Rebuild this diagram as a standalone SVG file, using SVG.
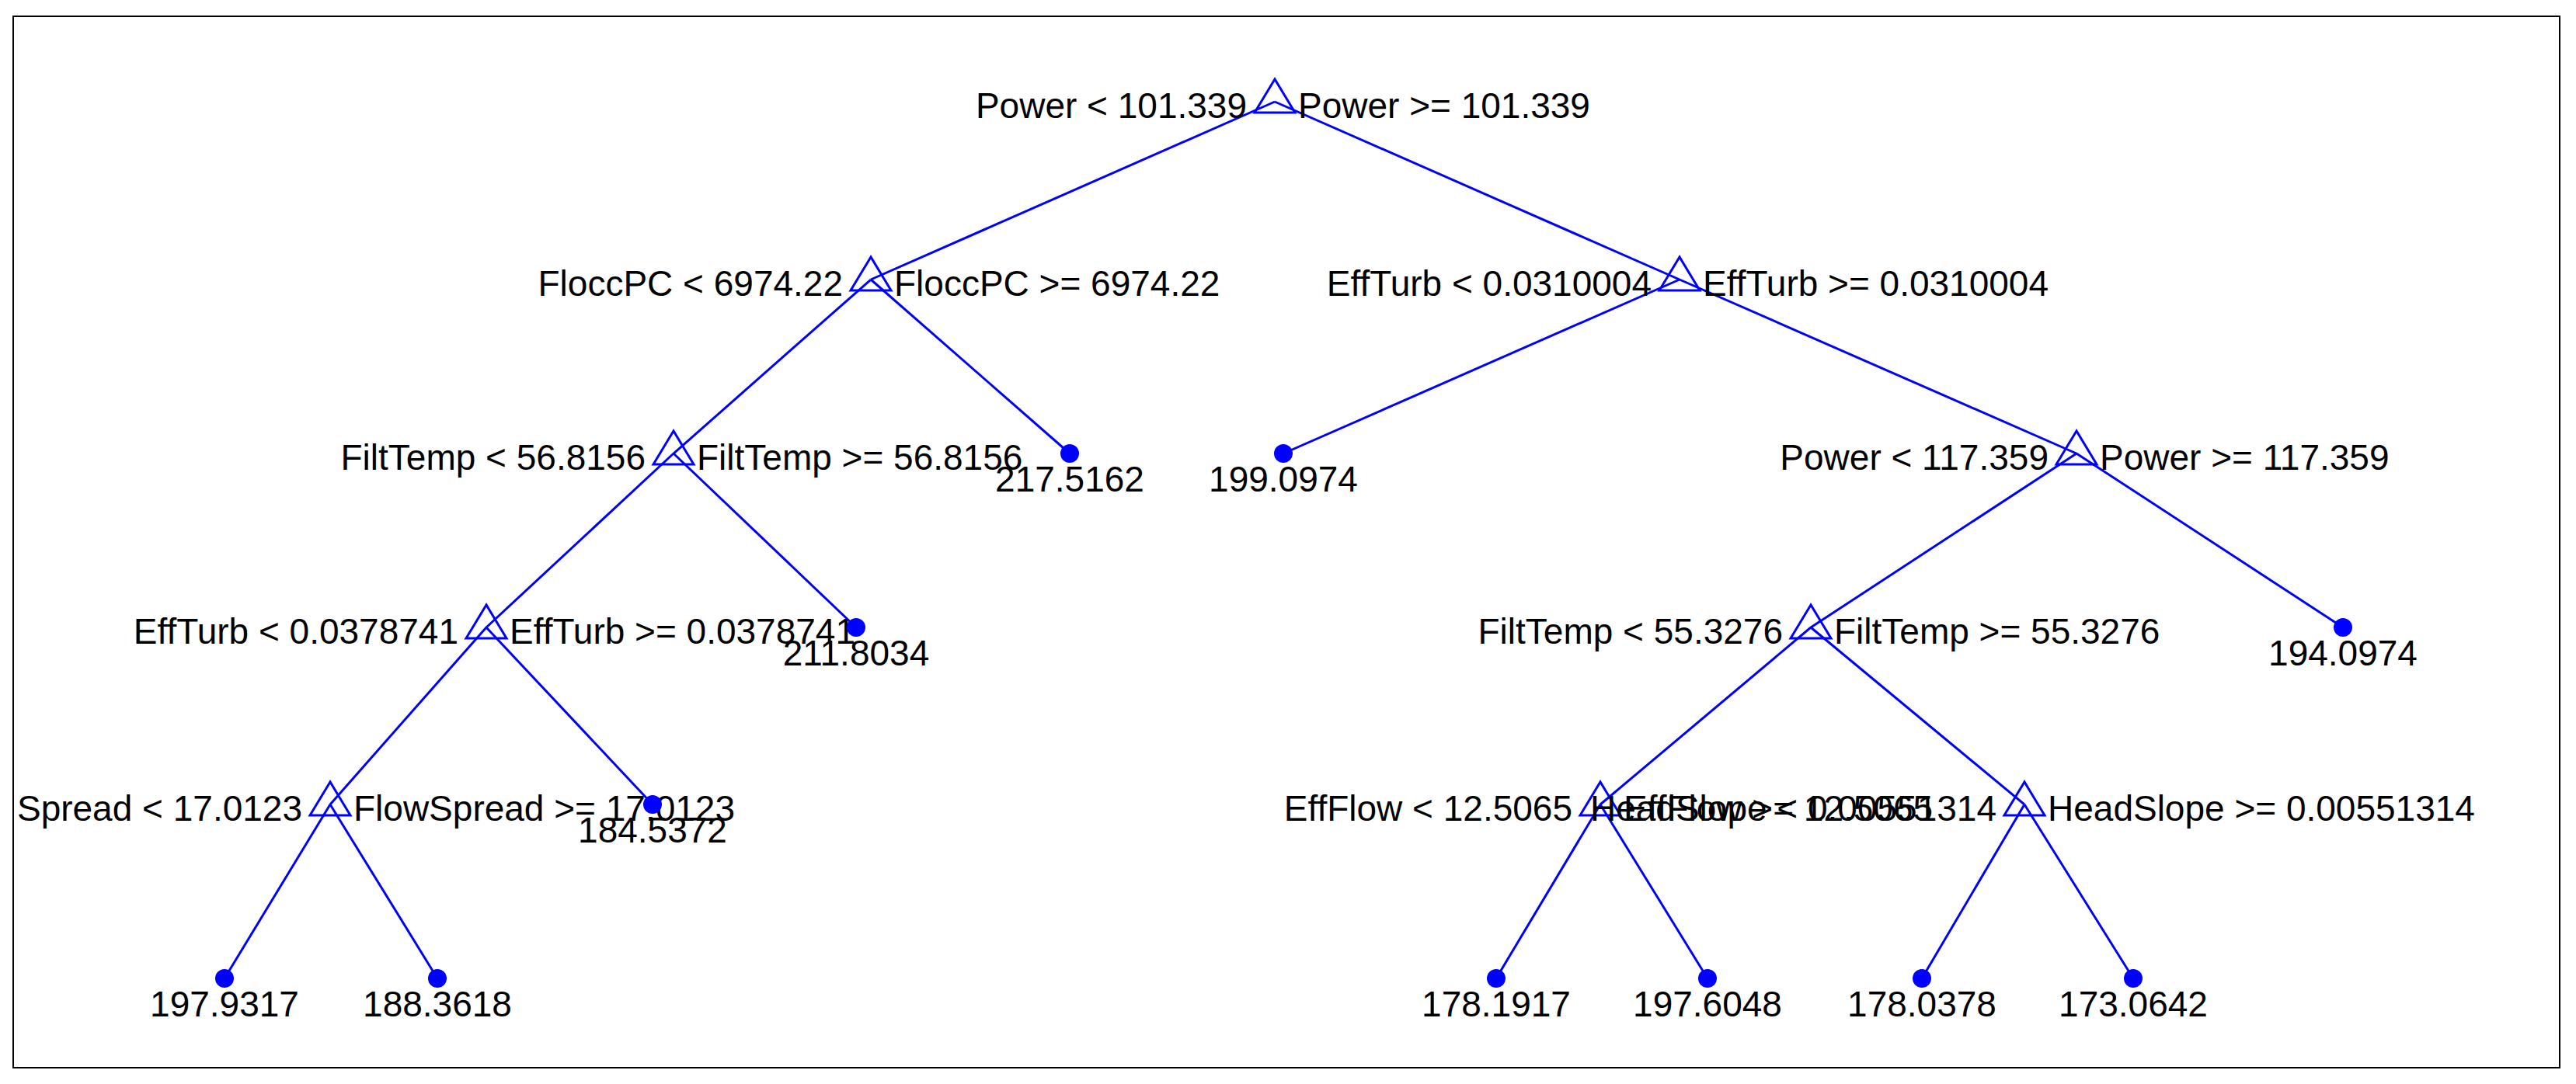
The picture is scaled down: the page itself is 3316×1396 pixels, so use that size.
<svg xmlns="http://www.w3.org/2000/svg" xmlns:xlink="http://www.w3.org/1999/xlink" width="3316" height="1396" viewBox="0 0 3316 1396">
<style>
.e{stroke:#0000ff;stroke-width:3;fill:none}
.t{fill:none;stroke:#0000ff;stroke-width:3}
.d{fill:#0000ff}
text{font-family:"Liberation Sans",Arial,sans-serif;font-size:46px;fill:#000}
.l{text-anchor:end}
.c{text-anchor:middle}
</style>
<defs>
<path id="tri" d="M0,-29 L-26,14 L26,14 Z" class="t"/>
</defs>
<rect x="0" y="0" width="3316" height="1396" fill="#fff"/>
<rect x="17" y="21" width="3278" height="1354" fill="none" stroke="#000" stroke-width="2"/>
<g id="connectors">
<path class="e" d="M1641,131 L1121,360 M1641,131 L2162,360 M1121,360 L867,584 M1121,360 L1377,584 M2162,360 L1652,584 M2162,360 L2673,584 M867,584 L626,808 M867,584 L1102,808 M2673,584 L2331,808 M2673,584 L3016,808 M626,808 L425,1036 M626,808 L840,1036 M2331,808 L2060,1036 M2331,808 L2606,1036 M425,1036 L289,1260 M425,1036 L563,1260 M2060,1036 L1926,1260 M2060,1036 L2198,1260 M2606,1036 L2474,1260 M2606,1036 L2746,1260"/>
</g>
<g id="n_root"><use xlink:href="#tri" x="1641" y="131"/><text class="l" x="1605" y="152">Power &lt; 101.339</text><text x="1671" y="152">Power &gt;= 101.339</text></g>
<g id="n_flocc"><use xlink:href="#tri" x="1121" y="360"/><text class="l" x="1085" y="381">FloccPC &lt; 6974.22</text><text x="1151" y="381">FloccPC &gt;= 6974.22</text></g>
<g id="n_effturb1"><use xlink:href="#tri" x="2162" y="360"/><text class="l" x="2126" y="381">EffTurb &lt; 0.0310004</text><text x="2192" y="381">EffTurb &gt;= 0.0310004</text></g>
<g id="n_filttemp1"><use xlink:href="#tri" x="867" y="584"/><text class="l" x="831" y="605">FiltTemp &lt; 56.8156</text><text x="897" y="605">FiltTemp &gt;= 56.8156</text></g>
<g id="n_power2"><use xlink:href="#tri" x="2673" y="584"/><text class="l" x="2637" y="605">Power &lt; 117.359</text><text x="2703" y="605">Power &gt;= 117.359</text></g>
<g id="n_effturb2"><use xlink:href="#tri" x="626" y="808"/><text class="l" x="590" y="829">EffTurb &lt; 0.0378741</text><text x="656" y="829">EffTurb &gt;= 0.0378741</text></g>
<g id="n_filttemp2"><use xlink:href="#tri" x="2331" y="808"/><text class="l" x="2295" y="829">FiltTemp &lt; 55.3276</text><text x="2361" y="829">FiltTemp &gt;= 55.3276</text></g>
<g id="n_flowspread"><use xlink:href="#tri" x="425" y="1036"/><text class="l" x="389" y="1057">Spread &lt; 17.0123</text><text x="455" y="1057">FlowSpread &gt;= 17.0123</text></g>
<g id="n_effflow"><use xlink:href="#tri" x="2060" y="1036"/><text class="l" x="2024" y="1057">EffFlow &lt; 12.5065</text><text x="2090" y="1057">EffFlow &gt;= 12.5065</text></g>
<g id="n_headslope"><use xlink:href="#tri" x="2606" y="1036"/><text class="l" x="2570" y="1057">HeadSlope &lt; 0.00551314</text><text x="2636" y="1057">HeadSlope &gt;= 0.00551314</text></g>
<g id="l_217"><circle class="d" cx="1377" cy="584" r="12"/><text class="c" x="1377" y="633">217.5162</text></g>
<g id="l_199"><circle class="d" cx="1652" cy="584" r="12"/><text class="c" x="1652" y="633">199.0974</text></g>
<g id="l_211"><circle class="d" cx="1102" cy="808" r="12"/><text class="c" x="1102" y="857">211.8034</text></g>
<g id="l_194"><circle class="d" cx="3016" cy="808" r="12"/><text class="c" x="3016" y="857">194.0974</text></g>
<g id="l_184"><circle class="d" cx="840" cy="1036" r="12"/><text class="c" x="840" y="1085">184.5372</text></g>
<g id="l_197a"><circle class="d" cx="289" cy="1260" r="12"/><text class="c" x="289" y="1309">197.9317</text></g>
<g id="l_188"><circle class="d" cx="563" cy="1260" r="12"/><text class="c" x="563" y="1309">188.3618</text></g>
<g id="l_178a"><circle class="d" cx="1926" cy="1260" r="12"/><text class="c" x="1926" y="1309">178.1917</text></g>
<g id="l_197b"><circle class="d" cx="2198" cy="1260" r="12"/><text class="c" x="2198" y="1309">197.6048</text></g>
<g id="l_178b"><circle class="d" cx="2474" cy="1260" r="12"/><text class="c" x="2474" y="1309">178.0378</text></g>
<g id="l_173"><circle class="d" cx="2746" cy="1260" r="12"/><text class="c" x="2746" y="1309">173.0642</text></g>
</svg>
